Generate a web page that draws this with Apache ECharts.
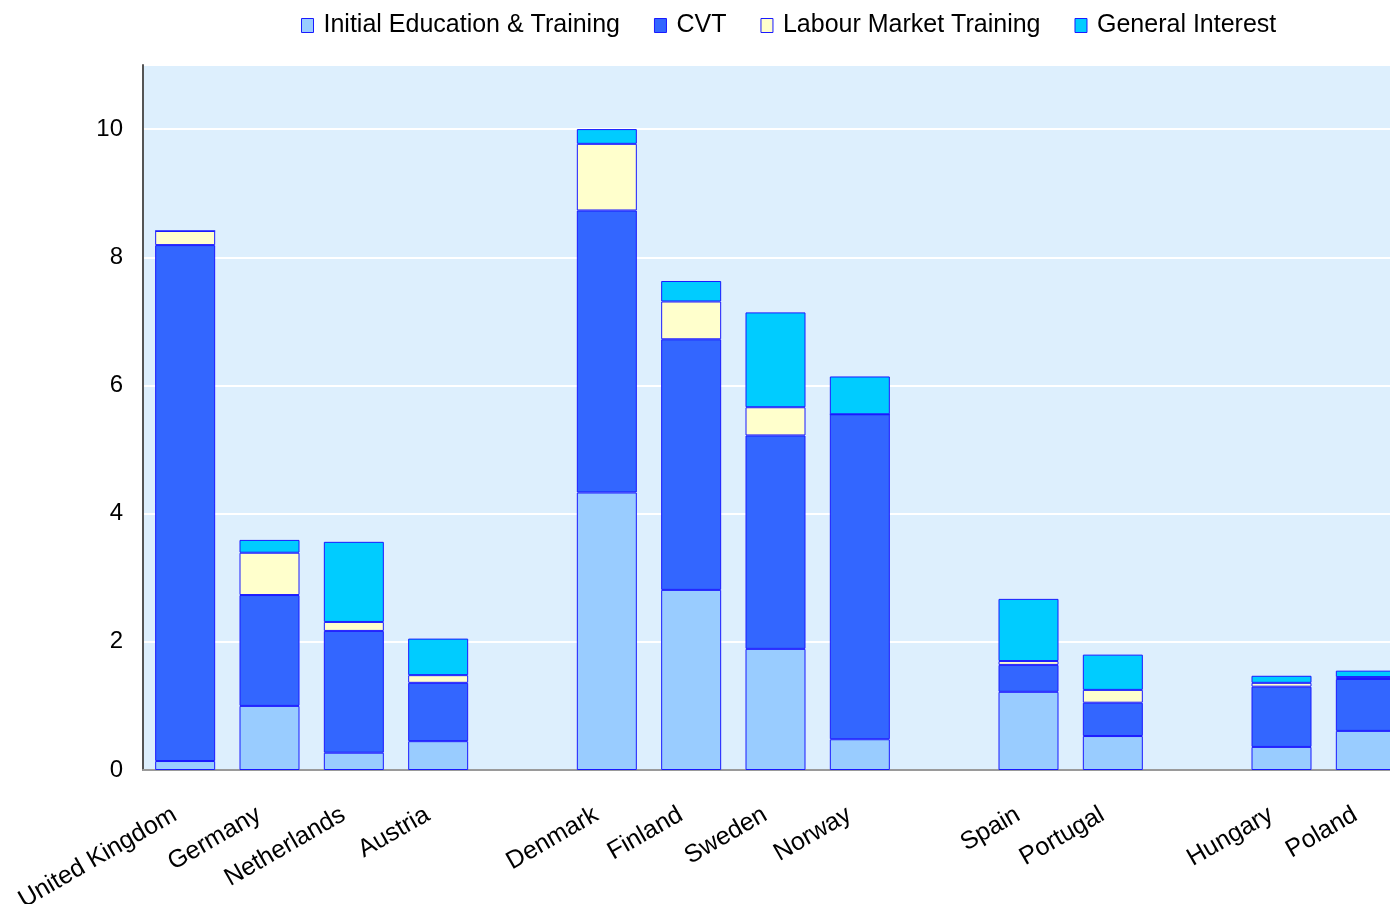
<!DOCTYPE html>
<html>
<head>
<meta charset="utf-8">
<script src="https://cdn.jsdelivr.net/npm/echarts@6/dist/echarts.min.js"></script>
<style>
  html, body { margin: 0; padding: 0; background: #fff; }
  #chart { width: 1390px; height: 904px; }
</style>
</head>
<body>
<div id="chart"></div>
<script>
// categories ('' = spacer between country groups)
var countries = ['United Kingdom', 'Germany', 'Netherlands', 'Austria', '',
  'Denmark', 'Finland', 'Sweden', 'Norway', '',
  'Spain', 'Portugal', '', 'Hungary', 'Poland'];

var initialEdu = [0.14, 1.00, 0.27, 0.45, '-', 4.33, 2.81, 1.89, 0.48, '-', 1.22, 0.53, '-', 0.36, 0.61];
var cvt        = [8.05, 1.73, 1.90, 0.91, '-', 4.40, 3.91, 3.33, 5.07, '-', 0.42, 0.52, '-', 0.94, 0.81];
var labourMkt  = [0.22, 0.66, 0.14, 0.12, '-', 1.04, 0.59, 0.44, 0,    '-', 0.06, 0.20, '-', 0.06, 0.03];
var generalInt = [0,    0.20, 1.25, 0.57, '-', 0.23, 0.32, 1.48, 0.59, '-', 0.97, 0.55, '-', 0.11, 0.10];

var yTicks = [0, 2, 4, 6, 8, 10];

var myChart = echarts.init(document.getElementById('chart'));

function bar(name, data, color) {
  return {
    name: name,
    type: 'bar',
    stack: 'total',
    barWidth: 60,
    data: data,
    itemStyle: { color: color, borderColor: '#1a1aff', borderWidth: 1 }
  };
}

var option = {
  animation: false,
  textStyle: { fontFamily: 'Liberation Sans, Arial, sans-serif' },
  legend: {
    top: 8,
    left: 296,
    icon: 'rect',
    itemWidth: 12,
    itemHeight: 14,
    itemGap: 34,
    itemStyle: { borderColor: '#1a1aff', borderWidth: 1 },
    textStyle: { fontSize: 25, color: '#000', padding: [0, 0, 0, 5] },
    data: ['Initial Education & Training', 'CVT', 'Labour Market Training', 'General Interest']
  },
  grid: {
    left: 143,
    top: 65,
    width: 1265,
    height: 705,
    outerBoundsMode: 'none',
    containLabel: false,
    show: true,
    backgroundColor: '#ddeffd',
    borderColor: '#9a9a9a',
    borderWidth: 1
  },
  xAxis: {
    type: 'category',
    data: countries,
    axisTick: { show: false },
    axisLine: { lineStyle: { color: '#9a9a9a', width: 2 } },
    axisLabel: {
      rotate: 30,
      interval: 0,
      margin: 37,
      padding: [0, 12, 0, 0],
      fontSize: 25,
      color: '#000'
    }
  },
  yAxis: {
    type: 'value',
    min: 0,
    max: 11,
    interval: 2,
    axisLine: { show: true, lineStyle: { color: '#555', width: 2 } },
    axisTick: { show: false },
    splitLine: { lineStyle: { color: '#ffffff', width: 2 } },
    axisLabel: {
      fontSize: 24,
      color: '#000',
      margin: 20,
      formatter: function (v) { return yTicks.indexOf(v) >= 0 ? v : ''; }
    }
  },
  series: [
    bar('Initial Education & Training', initialEdu, '#99ccff'),
    bar('CVT', cvt, '#3366ff'),
    bar('Labour Market Training', labourMkt, '#ffffcc'),
    bar('General Interest', generalInt, '#00ccff')
  ]
};

myChart.setOption(option);
</script>
</body>
</html>
